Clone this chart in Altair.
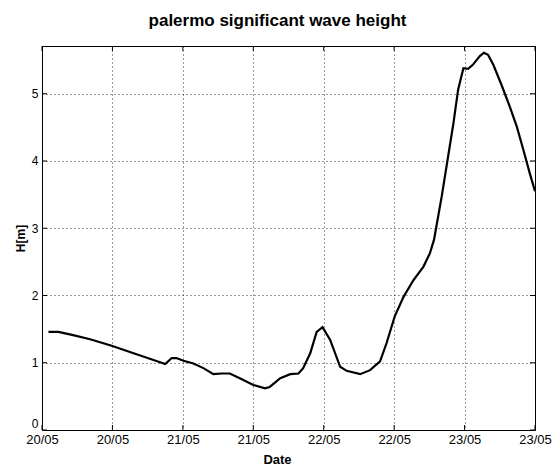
import json
import altair as alt
import pandas as pd

# ---- data (hours since 20/05 00:00, significant wave height in m) ----
hours = [1.1, 2.8, 5.3, 8.2, 12.0, 15.6, 19.0, 21.0, 22.1, 22.9, 24.1, 25.8,
         27.5, 29.2, 30.6, 32.0, 33.7, 36.0, 38.0, 38.8, 40.6, 42.3, 43.7, 44.5,
         45.7, 46.8, 47.8, 49.1, 50.8, 51.9, 54.2, 55.9, 57.6, 58.7, 60.1, 61.6,
         63.3, 65.0, 66.1, 66.8, 67.0, 68.1, 69.2, 70.1, 70.9, 71.8, 72.6, 73.4,
         74.6, 75.3, 76.0, 76.9, 78.3, 79.7, 80.9, 82.0, 83.1, 84.0]
hs = [1.46, 1.46, 1.41, 1.35, 1.25, 1.14, 1.04, 0.98, 1.07, 1.07, 1.03, 0.99,
      0.92, 0.83, 0.84, 0.84, 0.77, 0.67, 0.62, 0.64, 0.77, 0.83, 0.84, 0.92,
      1.14, 1.46, 1.53, 1.34, 0.94, 0.88, 0.83, 0.89, 1.02, 1.29, 1.69, 1.98,
      2.23, 2.43, 2.63, 2.83, 2.93, 3.47, 4.07, 4.56, 5.06, 5.38, 5.37, 5.43,
      5.56, 5.61, 5.58, 5.43, 5.13, 4.81, 4.51, 4.17, 3.82, 3.55]
x_ticks = [0, 12, 24, 36, 48, 60, 72, 84]
x_labels = ["20/05", "20/05", "21/05", "21/05", "22/05", "22/05", "23/05", "23/05"]
y_ticks = [0, 1, 2, 3, 4, 5]

W, H = 493, 384
X_DOM = [0, 84]
Y_DOM = [0, 5.71]
FONT = "Liberation Sans"

df = pd.DataFrame({"h": hours, "hs": hs})
xt = pd.DataFrame({"t": x_ticks})
yt = pd.DataFrame({"t": y_ticks})

xs = alt.Scale(domain=X_DOM, nice=False, zero=False)
ys = alt.Scale(domain=Y_DOM, nice=False)

label_expr = json.dumps(x_labels) + "[round(datum.value / 12)]"

line = alt.Chart(df).mark_line(color="black", strokeWidth=2.2).encode(
    x=alt.X("h:Q", scale=xs, title="Date",
            axis=alt.Axis(values=x_ticks, labelExpr=label_expr, ticks=False,
                          domain=False, grid=True, gridColor="black",
                          gridDash=[1, 3], gridOpacity=0.8, labelPadding=3,
                          labelFlush=False, labelOverlap=False,
                          labelFontSize=13, labelFont=FONT, labelColor="black",
                          titleFont=FONT, titleFontSize=13, titleFontWeight="bold",
                          titleColor="black", titleX=235, titleY=33,
                          titleAlign="center", titleBaseline="alphabetic")),
    y=alt.Y("hs:Q", scale=ys, title="H[m]",
            axis=alt.Axis(values=y_ticks, format="d", ticks=False, domain=False,
                          grid=True, gridColor="black", gridDash=[1, 3],
                          gridOpacity=0.8, labelPadding=4, labelFontSize=12,
                          labelFont=FONT, labelColor="black",
                          labelBaseline=alt.condition("datum.value == 0",
                                                      alt.value("bottom"),
                                                      alt.value("middle")),
                          titleFont=FONT,
                          titleFontSize=12, titleFontWeight="bold",
                          titleColor="black", titleX=-18, titleY=192,
                          titleAngle=-90, titleAlign="center",
                          titleBaseline="alphabetic")),
)

tk = 5
bottom_ticks = alt.Chart(xt).mark_rule(color="black").encode(
    x=alt.X("t:Q", scale=xs), y=alt.value(H), y2=alt.value(H - tk))
top_ticks = alt.Chart(xt).mark_rule(color="black").encode(
    x=alt.X("t:Q", scale=xs), y=alt.value(0), y2=alt.value(tk))
left_ticks = alt.Chart(yt).mark_rule(color="black").encode(
    y=alt.Y("t:Q", scale=ys), x=alt.value(0), x2=alt.value(tk))
right_ticks = alt.Chart(yt).mark_rule(color="black").encode(
    y=alt.Y("t:Q", scale=ys), x=alt.value(W), x2=alt.value(W - tk))

chart = alt.layer(line, bottom_ticks, top_ticks, left_ticks, right_ticks).properties(
    width=W, height=H,
    title=alt.TitleParams("palermo significant wave height", font=FONT, fontSize=17,
                          fontWeight="bold", color="black", offset=16, dx=-11),
    autosize=alt.AutoSizeParams(type="none"),
    padding={"left": 42, "top": 46, "right": 19, "bottom": 37},
    background="white",
).configure_view(stroke="black", strokeWidth=1)

chart.save("out.html", embed_options={"renderer": "svg", "actions": False})
